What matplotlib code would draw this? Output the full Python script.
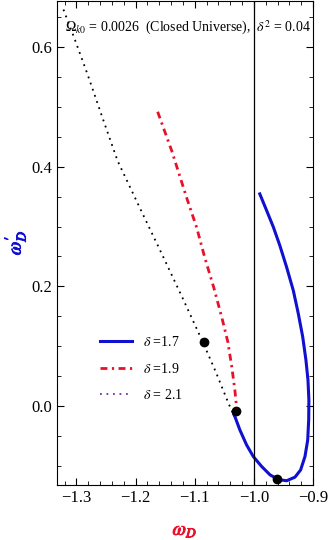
import numpy as np
from matplotlib import pyplot as plt
from matplotlib.lines import Line2D
from matplotlib.ticker import MultipleLocator
import matplotlib.patheffects as pe

plt.rcParams['font.family'] = ['Liberation Serif', 'DejaVu Serif']
plt.rcParams['mathtext.fontset'] = 'stix'

# delta = 1.7 (blue, solid)
w17 = [-0.991, -0.9785, -0.967, -0.956, -0.9446, -0.9333, -0.925, -0.9175,
       -0.912, -0.9085, -0.907, -0.9073, -0.909, -0.9136, -0.921, -0.9305,
       -0.9446, -0.9588, -0.9729, -0.987, -1.001, -1.0124, -1.0237, -1.032,
       -1.035]
dw17 = [0.357, 0.327, 0.299, 0.268, 0.232, 0.193, 0.155, 0.116,
        0.077, 0.043, 0.010, -0.023, -0.057, -0.0845, -0.107, -0.119,
        -0.125, -0.123, -0.115, -0.101, -0.0845, -0.065, -0.040, -0.018,
        -0.012]

# delta = 1.9 (red, dash-dot)
w19 = [-1.1627, -1.139, -1.1136, -1.0966, -1.083, -1.0678, -1.0542, -1.044,
       -1.0373, -1.0322, -1.0288]
dw19 = [0.492, 0.427, 0.348, 0.298, 0.248, 0.198, 0.148, 0.107,
        0.065, 0.027, -0.007]

# delta = 2.1 (black, dotted)
w21 = [-1.322, -1.3017, -1.2814, -1.256, -1.2305, -1.1932, -1.156, -1.1203,
       -1.0864, -1.0644, -1.044, -1.0356]
dw21 = [0.663, 0.610, 0.555, 0.482, 0.410, 0.332, 0.255, 0.180,
        0.107, 0.057, 0.007, -0.012]

# present-day points
dots_w = [-0.961, -1.0305, -1.085]
dots_dw = [-0.122, -0.008, 0.107]

labels = [r'$\delta$ =1.7', r'$\delta$ =1.9', r'$\delta$ = 2.1']

blue = '#1010d0'
red = '#e8102a'
dashdot = (0, (2.5, 1.6, 0.8, 1.6))
dotted = (0, (1, 2.6))

fig = plt.figure(figsize=(3.33, 5.40), dpi=100)
ax = fig.add_axes([0.171, 0.102, 0.769, 0.897])

ax.plot(w17, dw17, color=blue, lw=2.2, solid_capstyle='butt', solid_joinstyle='round')
ax.plot(w19, dw19, color=red, lw=2.0, linestyle=dashdot)
ax.plot(w21, dw21, color='black', lw=1.3, linestyle=dotted)
ax.axvline(-1.0, color='black', lw=0.9)
ax.plot(dots_w, dots_dw, 'o', color='black', ms=6, zorder=5)

ax.set_xlim(-1.333, -0.9)
ax.set_ylim(-0.132, 0.678)
ax.xaxis.set_major_locator(MultipleLocator(0.1))
ax.xaxis.set_minor_locator(MultipleLocator(0.02))
ax.yaxis.set_major_locator(MultipleLocator(0.2))
ax.yaxis.set_minor_locator(MultipleLocator(0.05))
ax.tick_params(which='both', direction='in', top=True, right=True, labelsize=12)
ax.tick_params(which='major', length=5)
ax.tick_params(which='minor', length=3)
fmt = plt.FuncFormatter(lambda v, p: f'{v:.1f}'.replace('-', '\u2212'))
ax.xaxis.set_major_formatter(fmt)
ax.yaxis.set_major_formatter(fmt)

thick = lambda c: [pe.withStroke(linewidth=0.7, foreground=c)]
ax.set_xlabel(r'$\omega_D$', color=red, fontsize=14, labelpad=12,
              path_effects=thick(red))
ax.set_ylabel(r"$\omega^{\prime}_D$", color=blue, fontsize=14,
              path_effects=thick(blue))
ax.yaxis.set_label_coords(-0.11, 0.5)

ax.text(0.03, 0.935, r'$\Omega_{k0}$ = 0.0026  (Closed Universe),  $\delta^2$ = 0.04',
        transform=ax.transAxes, fontsize=10)

handles = [Line2D([], [], color=blue, lw=2.2),
           Line2D([], [], color=red, lw=2.0, linestyle=dashdot),
           Line2D([], [], color='#7030a0', lw=1.3, linestyle=dotted)]
ax.legend(handles, labels, loc='upper left', bbox_to_anchor=(0.12, 0.335),
          frameon=False, fontsize=10, handlelength=2.3, labelspacing=0.9)

fig.savefig('out.png', dpi=100)
